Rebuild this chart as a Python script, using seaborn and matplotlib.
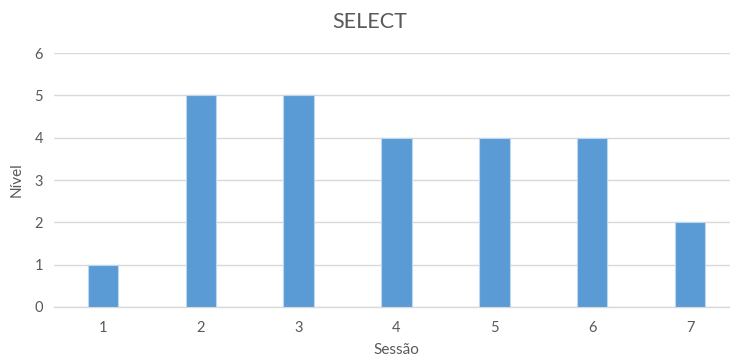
import matplotlib
matplotlib.use("Agg")
import matplotlib.pyplot as plt
import seaborn as sns
import pandas as pd

sessoes = ["1", "2", "3", "4", "5", "6", "7"]
niveis = [1, 5, 5, 4, 4, 4, 2]
y_ticks = [0, 1, 2, 3, 4, 5, 6]

df = pd.DataFrame({"Sessão": sessoes, "Nível": niveis})

sns.set_theme(style="white")
plt.rcParams["font.family"] = ["Lato", "DejaVu Sans"]

text_color = "#595959"
fig = plt.figure(figsize=(7.30, 3.58), dpi=100)
ax = fig.add_axes([54 / 730, 51 / 358, (739 - 54) / 730, (307 - 53) / 358])

sns.barplot(data=df, x="Sessão", y="Nível", color="#5B9BD5", saturation=1,
            width=0.31, edgecolor="#BDD7EE", linewidth=0.8, ax=ax, zorder=3)

ax.set_ylim(0, 6)
ax.set_xlim(-0.5, len(sessoes) - 0.5)
ax.set_yticks(y_ticks)
ax.yaxis.grid(True, color="#D9D9D9", linewidth=1.0, zorder=0)
ax.set_axisbelow(True)
for s in ["top", "right", "left"]:
    ax.spines[s].set_visible(False)
ax.spines["bottom"].set_color("#D9D9D9")
ax.spines["bottom"].set_linewidth(1.0)
ax.tick_params(axis="both", length=0, labelsize=10.5, colors=text_color, pad=8)
ax.tick_params(axis="x", pad=10)

ax.set_xlabel("Sessão", fontsize=11, color=text_color, labelpad=6)
ax.set_ylabel("Nível", fontsize=11, color=text_color, labelpad=8)

fig.text(370 / 730, 1 - 22 / 358, "SELECT", ha="center", va="center",
         fontsize=15.5, color=text_color)

fig.savefig("out.png", dpi=100, facecolor="white")
